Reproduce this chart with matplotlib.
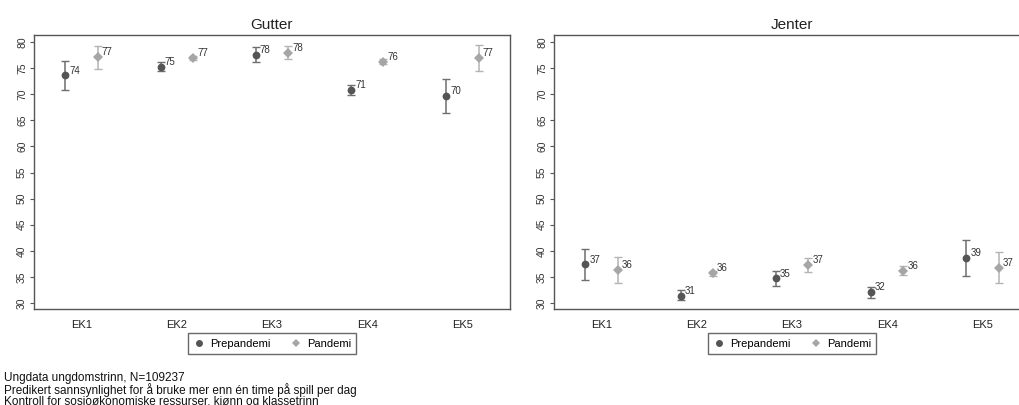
import numpy as np
import matplotlib
matplotlib.use("Agg")
import matplotlib.pyplot as plt
from matplotlib.lines import Line2D

plt.rcParams['font.family'] = ['Liberation Sans', 'DejaVu Sans']

# Data
categories = ["EK1", "EK2", "EK3", "EK4", "EK5"]

gutter_pre = [73.6, 75.3, 77.6, 70.8, 69.7]
gutter_pre_lo = [70.8, 74.4, 76.2, 69.9, 66.5]
gutter_pre_hi = [76.4, 76.2, 79.0, 71.8, 73.0]
gutter_pre_lbl = ["74", "75", "78", "71", "70"]

gutter_pan = [77.1, 76.9, 77.9, 76.2, 76.9]
gutter_pan_lo = [74.9, 76.5, 76.7, 75.7, 74.4]
gutter_pan_hi = [79.3, 77.3, 79.2, 76.7, 79.4]
gutter_pan_lbl = ["77", "77", "78", "76", "77"]

jenter_pre = [37.4, 31.4, 34.7, 32.1, 38.6]
jenter_pre_lo = [34.5, 30.6, 33.2, 31.0, 35.1]
jenter_pre_hi = [40.4, 32.5, 36.1, 33.1, 42.1]
jenter_pre_lbl = ["37", "31", "35", "32", "39"]

jenter_pan = [36.4, 35.7, 37.3, 36.1, 36.8]
jenter_pan_lo = [33.9, 35.2, 35.9, 35.3, 33.9]
jenter_pan_hi = [38.8, 36.2, 38.6, 37.1, 39.8]
jenter_pan_lbl = ["36", "36", "37", "36", "37"]

footnote = ["Ungdata ungdomstrinn, N=109237",
            "Predikert sannsynlighet for å bruke mer enn én time på spill per dag",
            "Kontroll for sosioøkonomiske ressurser, kjønn og klassetrinn"]

PRE_COLOR = "#555555"
PAN_COLOR = "#a6a6a6"
PRE_ERR = "#6e6e6e"
PAN_ERR = "#b4b4b4"
SPINE = "#555555"

fig = plt.figure(figsize=(10.2, 4.05), dpi=100)
ax_w = 476 / 1020
ax_h = 274 / 405
ax_b = (405 - 309) / 405
ax1 = fig.add_axes([34 / 1020, ax_b, ax_w, ax_h])
ax2 = fig.add_axes([554 / 1020, ax_b, ax_w, ax_h])

x = np.arange(1, len(categories) + 1)
off = 0.17


def draw_series(ax, xs, vals, lo, hi, labels, color, ecolor, marker, ms):
    vals = np.array(vals)
    yerr = [vals - np.array(lo), np.array(hi) - vals]
    ax.errorbar(xs, vals, yerr=yerr, fmt="none", ecolor=ecolor,
                elinewidth=1.1, capsize=3, capthick=1.0, zorder=2)
    ax.plot(xs, vals, linestyle="none", marker=marker, color=color,
            markersize=ms, markeredgewidth=0, zorder=3)
    for xi, v, t in zip(xs, vals, labels):
        ax.annotate(t, (xi, v), xytext=(3, 3.5), textcoords="offset points",
                    ha="left", va="center", fontsize=7, color="#333333")


def setup(ax, title):
    ax.set_xlim(0.5, 5.5)
    ax.set_ylim(28.85, 81.35)
    ax.set_yticks(np.arange(30, 81, 5))
    ax.set_yticklabels([str(v) for v in range(30, 81, 5)], rotation=90,
                       va="center", fontsize=7.5, color="#333333")
    ax.set_xticks(x)
    ax.set_xticklabels(categories, fontsize=8, color="#222222")
    ax.tick_params(axis="x", length=0, pad=8)
    ax.tick_params(axis="y", length=3, width=0.8, color=SPINE, pad=2)
    for s in ax.spines.values():
        s.set_color(SPINE)
        s.set_linewidth(1.0)
    ax.set_title(title, fontsize=11, color="#222222", pad=4)
    handles = [
        Line2D([], [], marker="o", color=PRE_COLOR, linestyle="none",
               markersize=5, markeredgewidth=0, label="Prepandemi"),
        Line2D([], [], marker="D", color=PAN_COLOR, linestyle="none",
               markersize=4.5, markeredgewidth=0, label="Pandemi"),
    ]
    leg = ax.legend(handles=handles, loc="upper center",
                    bbox_to_anchor=(0.5, -0.068), ncol=2, fontsize=8,
                    frameon=True, fancybox=False, edgecolor="#444444",
                    handletextpad=0.4, columnspacing=1.8, borderpad=0.5,
                    handlelength=1.1)
    leg.get_frame().set_linewidth(1.0)


draw_series(ax1, x - off, gutter_pre, gutter_pre_lo, gutter_pre_hi,
            gutter_pre_lbl, PRE_COLOR, PRE_ERR, "o", 5.6)
draw_series(ax1, x + off, gutter_pan, gutter_pan_lo, gutter_pan_hi,
            gutter_pan_lbl, PAN_COLOR, PAN_ERR, "D", 5.2)
setup(ax1, "Gutter")

draw_series(ax2, x - off, jenter_pre, jenter_pre_lo, jenter_pre_hi,
            jenter_pre_lbl, PRE_COLOR, PRE_ERR, "o", 5.6)
draw_series(ax2, x + off, jenter_pan, jenter_pan_lo, jenter_pan_hi,
            jenter_pan_lbl, PAN_COLOR, PAN_ERR, "D", 5.2)
setup(ax2, "Jenter")

for i, line in enumerate(footnote):
    fig.text(4 / 1020, (405 - 378 - 12 * i) / 405, line, fontsize=8.5,
             color="#111111", ha="left", va="center")

fig.savefig("out.png", dpi=100)
